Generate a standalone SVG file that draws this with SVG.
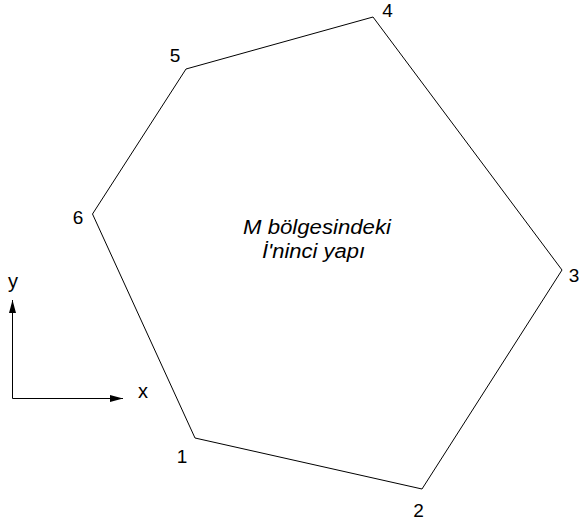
<svg xmlns="http://www.w3.org/2000/svg" width="579" height="527" viewBox="0 0 579 527">
<style>
.edge{fill:none;stroke:#000;stroke-width:1}
.lbl{font-family:"Liberation Sans",Arial,sans-serif;font-size:19px;fill:#000;text-anchor:middle}
.ax{font-size:20px}
.ctr{font-family:"Liberation Sans",Arial,sans-serif;font-size:20px;font-style:italic;fill:#000}
</style>
<defs>
<marker id="arr" viewBox="0 0 13 7" refX="13" refY="3.5" markerWidth="13" markerHeight="7" markerUnits="userSpaceOnUse" orient="auto">
<path d="M0,0 L13,3.5 L0,7 z" fill="#000"/>
</marker>
</defs>
<rect width="579" height="527" fill="#fff"/>
<g id="connectors">
<polygon class="edge" points="195,438 422,489 562,270 373,17 186,69 92.5,214"/>
<line class="edge" x1="12.5" y1="398.5" x2="12.5" y2="300" marker-end="url(#arr)"/>
<line class="edge" x1="12.5" y1="398.5" x2="123" y2="398.5" marker-end="url(#arr)"/>
</g>
<g id="v1"><text class="lbl" x="182" y="463">1</text></g>
<g id="v2"><text class="lbl" x="418.5" y="517">2</text></g>
<g id="v3"><text class="lbl" x="574" y="282">3</text></g>
<g id="v4"><text class="lbl" x="387.5" y="17">4</text></g>
<g id="v5"><text class="lbl" x="175" y="62">5</text></g>
<g id="v6"><text class="lbl" x="78" y="224">6</text></g>
<g id="axis-x"><text class="lbl ax" x="143" y="398">x</text></g>
<g id="axis-y"><text class="lbl ax" x="13" y="288">y</text></g>
<g id="region">
<text class="ctr" x="243" y="234" textLength="148" lengthAdjust="spacingAndGlyphs">M bölgesindeki</text>
<text class="ctr" x="262" y="258" textLength="103" lengthAdjust="spacingAndGlyphs">İ'ninci yapı</text>
</g>
</svg>
